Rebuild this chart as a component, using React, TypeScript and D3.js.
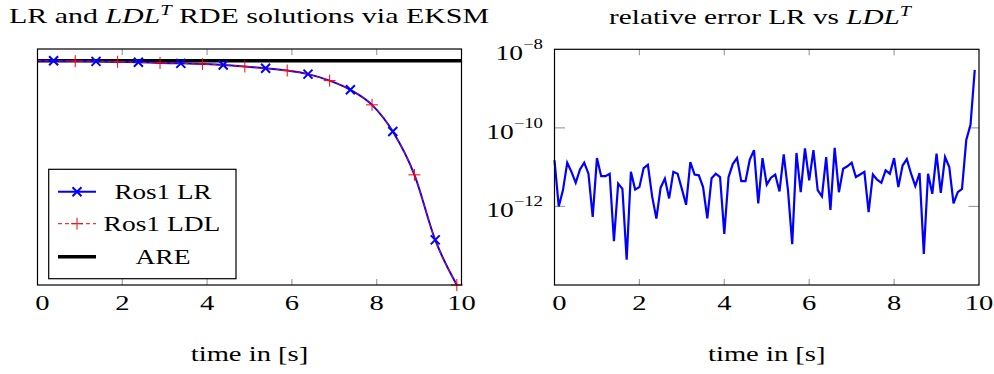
import * as d3 from 'd3';

// left panel: RDE solution samples (both methods coincide)
const rdeTime = [0, 0.38, 0.89, 1.38, 1.89, 2.38, 2.89, 3.38, 3.89, 4.38, 4.89, 5.38, 5.89, 6.38, 6.89, 7.38, 7.89, 8.38, 8.89, 9.38, 9.89];
const rdeLR = [1.0, 0.9995, 0.998, 0.997, 0.995, 0.993, 0.99, 0.988, 0.985, 0.981, 0.974, 0.966, 0.956, 0.94, 0.911, 0.87, 0.803, 0.684, 0.491, 0.201, 0.0];
const rdeLDL = [1.0, 0.9995, 0.998, 0.997, 0.995, 0.993, 0.99, 0.988, 0.985, 0.981, 0.974, 0.966, 0.956, 0.94, 0.911, 0.87, 0.803, 0.684, 0.491, 0.201, 0.0];
const lrMarkIdx = [1, 3, 5, 7, 9, 11, 13, 15, 17, 19];
const ldlMarkIdx = [2, 4, 6, 8, 10, 12, 14, 16, 18, 20];
const areValue = 1.0;

// right panel: relative error, sampled every 0.1 s from 0 to 9.9
const errStep = 0.1;
const relErr = [
  1.5e-11, 1.0e-12, 2.6e-12, 1.3e-11, 7.6e-12, 4.0e-12, 8.7e-12, 1.3e-11, 6.8e-12, 5.4e-13,
  1.7e-11, 5.9e-12, 5.9e-12, 6.8e-12, 1.3e-13, 3.8e-12, 2.8e-12, 4.4e-14, 7.6e-12, 2.7e-12,
  3.1e-12, 9.5e-12, 1.15e-11, 1.8e-12, 4.9e-13, 3.0e-12, 5.1e-12, 1.6e-12, 7.6e-12, 6.8e-12,
  2.8e-12, 1.1e-12, 1.35e-11, 6.5e-12, 6.2e-12, 3.1e-12, 5.0e-13, 5.2e-12, 6.8e-12, 5.6e-12,
  2.0e-13, 5.6e-12, 1.2e-11, 1.7e-11, 4.4e-12, 4.4e-12, 1.55e-11, 2.7e-11, 1.2e-12, 1.7e-11,
  3.6e-12, 5.4e-12, 6.5e-12, 2.4e-12, 2.1e-11, 2.6e-12, 1.1e-13, 2.3e-11, 2.3e-12, 3.0e-11,
  4.6e-12, 2.7e-11, 2.6e-12, 1.8e-12, 1.8e-11, 8.1e-13, 3.1e-11, 2.3e-12, 9.1e-12, 1.05e-11,
  1.3e-11, 5.6e-12, 6.5e-12, 7.6e-12, 7.2e-13, 6.5e-12, 4.8e-12, 4.0e-12, 8.3e-12, 6.8e-12,
  1.7e-11, 3.1e-12, 1.1e-11, 1.6e-11, 6.8e-12, 3.3e-12, 7.1e-12, 6.2e-14, 6.8e-12, 2.1e-12,
  2.2e-11, 2.2e-12, 1.8e-11, 1.0e-11, 1.2e-12, 2.3e-12, 2.8e-12, 4.9e-11, 1.2e-10, 3.0e-9,
];

const xTicks = [0, 2, 4, 6, 8, 10];
const yTicksLog = [1e-8, 1e-10, 1e-12];
const yTickExp = ['−8', '−10', '−12'];

const FONT = "'Liberation Serif'";
const FS = 22;
const SX = 1.3; // the reference type is wide (Computer Modern look)
const TICKGRAY = '#a0a0a0';

// text stretched horizontally around its anchor point
function Txt({ x, y, anchor = 'middle', sx = SX, children }) {
  return (
    <text
      transform={`translate(${x},${y}) scale(${sx},1)`}
      textAnchor={anchor}
      style={{ fontFamily: FONT, fontSize: FS }}
    >
      {children}
    </text>
  );
}

function XAxis({ x, top, bottom }) {
  return (
    <g>
      {xTicks.map((t, i) => (
        <g key={t}>
          {i > 0 && i < xTicks.length - 1 && (
            <>
              <line x1={x(t)} x2={x(t)} y1={bottom} y2={bottom - 6} stroke={TICKGRAY} strokeWidth={1.2} />
              <line x1={x(t)} x2={x(t)} y1={top} y2={top + 6} stroke={TICKGRAY} strokeWidth={1.2} />
            </>
          )}
          <Txt x={x(t) + (t === 0 ? 5 : 0)} y={bottom + 25}>{t}</Txt>
        </g>
      ))}
      <Txt x={(x(0) + x(10)) / 2} y={361}>time in [s]</Txt>
    </g>
  );
}

export default function App() {
  // left panel
  const xL = d3.scaleLinear().domain([0, 10]).range([37.5, 461.5]);
  const yL = d3.scaleLinear().domain([0, 1.052]).range([285, 49]);
  // right panel
  const xR = d3.scaleLinear().domain([0, 10]).range([554.5, 979]);
  const yR = d3.scaleLog().domain([1e-14, 1e-8]).range([285, 49.3]);

  const rdeLine = (vals) =>
    d3.line().x((d, i) => xL(rdeTime[i])).y((d) => yL(d)).curve(d3.curveMonotoneX)(vals);

  const errLine = d3.line().x((d, i) => xR(i * errStep)).y((d) => yR(d))(relErr);

  const cross = (cx, cy, r) => `M${cx - r},${cy - r}L${cx + r},${cy + r}M${cx - r},${cy + r}L${cx + r},${cy - r}`;
  const plus = (cx, cy, r) => `M${cx - r},${cy}L${cx + r},${cy}M${cx},${cy - r}L${cx},${cy + r}`;

  const lgX = 48.7, lgY = 169.3;

  return (
    <svg width={994} height={374} style={{ position: 'absolute', left: 0, top: 0, background: '#fff' }}>
      <defs>
        <clipPath id="clipL">
          <rect x={37.5} y={49} width={424} height={236} />
        </clipPath>
      </defs>

      {/* titles */}
      <Txt x={249} y={23} sx={1.36}>
        LR and <tspan fontStyle="italic">LDL</tspan>
        <tspan fontStyle="italic" fontSize={15} dy={-8}>T</tspan>
        <tspan dy={8}> RDE solutions via EKSM</tspan>
      </Txt>
      <Txt x={760} y={24} sx={1.33}>
        relative error LR vs <tspan fontStyle="italic">LDL</tspan>
        <tspan fontStyle="italic" fontSize={15} dy={-8}>T</tspan>
      </Txt>

      {/* ---- left panel ---- */}
      <XAxis x={xL} top={49} bottom={285} />
      <g clipPath="url(#clipL)">
        <line x1={37.5} x2={461.5} y1={yL(areValue)} y2={yL(areValue)} stroke="#000" strokeWidth={3.5} />
        <path d={rdeLine(rdeLR)} fill="none" stroke="#0000ff" strokeWidth={2} />
        <path d={rdeLine(rdeLDL)} fill="none" stroke="#ff0000" strokeWidth={1} strokeDasharray="4,3" />
      </g>
      {lrMarkIdx.map((i) => (
        <path key={'x' + i} d={cross(xL(rdeTime[i]), yL(rdeLR[i]), 4.5)} stroke="#0000ff" strokeWidth={2} fill="none" />
      ))}
      {ldlMarkIdx.map((i) => (
        <path key={'p' + i} d={plus(xL(rdeTime[i]), yL(rdeLDL[i]), 6)} stroke="#ff0000" strokeWidth={1} fill="none" />
      ))}
      <rect x={37.5} y={49} width={424} height={236} fill="none" stroke="#000" strokeWidth={1.2} />

      {/* legend */}
      <rect x={lgX} y={lgY} width={187.3} height={109.4} fill="#fff" stroke="#000" strokeWidth={1.2} />
      <line x1={58} x2={96} y1={191.7} y2={191.7} stroke="#0000ff" strokeWidth={2} />
      <path d={cross(77, 191.7, 4.5)} stroke="#0000ff" strokeWidth={2} fill="none" />
      <line x1={58} x2={96} y1={223.7} y2={223.7} stroke="#ff0000" strokeWidth={1} strokeDasharray="4,3" />
      <path d={plus(77, 223.7, 6)} stroke="#ff0000" strokeWidth={1} fill="none" />
      <line x1={58} x2={96} y1={256.7} y2={256.7} stroke="#000" strokeWidth={3.5} />
      <Txt x={163} y={199} sx={1.23}>Ros1 LR</Txt>
      <Txt x={162} y={231} sx={1.25}>Ros1 LDL</Txt>
      <Txt x={163} y={264} sx={1.25}>ARE</Txt>

      {/* ---- right panel ---- */}
      <XAxis x={xR} top={49.3} bottom={285} />
      {yTicksLog.map((v, i) => (
        <g key={v}>
          {i > 0 && (
            <>
              <line x1={554.5} x2={565} y1={yR(v)} y2={yR(v)} stroke={TICKGRAY} strokeWidth={1.2} />
              <line x1={968.5} x2={979} y1={yR(v)} y2={yR(v)} stroke={TICKGRAY} strokeWidth={1.2} />
            </>
          )}
          <Txt x={543} y={yR(v) + 11} anchor="end" sx={1.25}>
            10<tspan fontSize={15} dy={-11}>{yTickExp[i]}</tspan>
          </Txt>
        </g>
      ))}
      <path d={errLine} fill="none" stroke="#0000ff" strokeWidth={2.2} strokeLinejoin="miter" />
      <rect x={554.5} y={49.3} width={424.5} height={235.7} fill="none" stroke="#000" strokeWidth={1.2} />
    </svg>
  );
}
